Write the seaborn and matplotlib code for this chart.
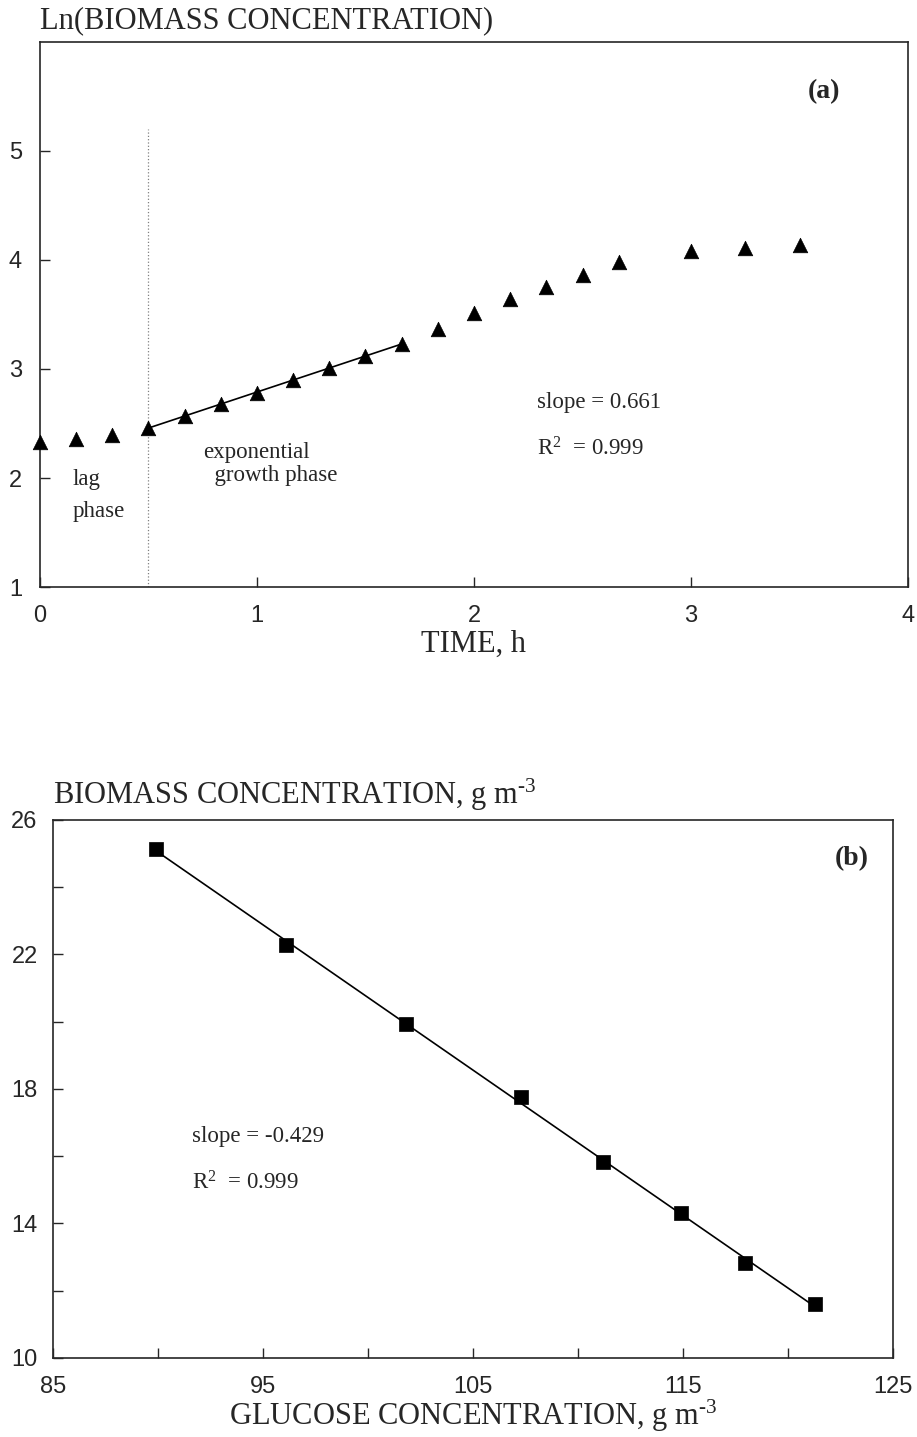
import numpy as np
import pandas as pd
import matplotlib
matplotlib.use("Agg")
import matplotlib.pyplot as plt
import seaborn as sns

# panel (a): growth curve, ln(biomass) vs time
time_h = [0.0, 0.167, 0.333, 0.5, 0.667, 0.833, 1.0, 1.167, 1.333, 1.5, 1.667,
          1.833, 2.0, 2.167, 2.333, 2.5, 2.667, 3.0, 3.25, 3.5]
ln_biomass = [2.33, 2.36, 2.39, 2.46, 2.57, 2.68, 2.78, 2.90, 3.01, 3.12, 3.23,
              3.37, 3.51, 3.64, 3.75, 3.86, 3.98, 4.08, 4.11, 4.14]
exp_start, exp_end = 0.5, 1.667

# panel (b): biomass vs glucose
glucose = [89.9, 96.1, 101.8, 107.3, 111.2, 114.9, 117.95, 121.3]
biomass = [25.14, 22.28, 19.93, 17.76, 15.82, 14.30, 12.82, 11.6]

df_a = pd.DataFrame({"time": time_h, "lnx": ln_biomass})
df_exp = df_a[(df_a["time"] >= exp_start - 1e-6) & (df_a["time"] <= exp_end + 1e-6)]
df_b = pd.DataFrame({"glucose": glucose, "biomass": biomass})

sns.set_theme(style="ticks")
serif = "Liberation Serif"
sans = "Liberation Sans"
plt.rcParams["font.family"] = [sans, "DejaVu Sans"]
plt.rcParams["axes.linewidth"] = 1.2
plt.rcParams["mathtext.fontset"] = "custom"
plt.rcParams["mathtext.rm"] = serif
plt.rcParams["mathtext.it"] = serif + ":italic"

TITLE = 22
NOTE = 16.5
TICK = 17

fig = plt.figure(figsize=(9.17, 14.37), dpi=100)
ax1 = fig.add_axes([0.0436, 0.5915, 0.9466, 0.3793])
ax2 = fig.add_axes([0.0578, 0.0550, 0.9160, 0.3744])

# ---- panel (a)
ax1.plot([exp_start, exp_start], [1, 5.2], color="gray", linestyle=":", linewidth=0.9)
sns.regplot(x="time", y="lnx", data=df_exp, ci=None, scatter=False, truncate=True,
            line_kws={"color": "black", "linewidth": 1.2}, ax=ax1)
sns.scatterplot(x="time", y="lnx", data=df_a, marker="^", s=110, color="black",
                edgecolor="black", linewidth=0.5, ax=ax1, clip_on=False, zorder=5)
ax1.set_xlim(0, 4)
ax1.set_ylim(1, 6)
ax1.set_xticks([0, 1, 2, 3, 4])
ax1.set_yticks([1, 2, 3, 4, 5])
ax1.tick_params(direction="in", length=7, width=1, labelsize=TICK, pad=13)
ax1.set_xlabel("TIME, h", family=serif, fontsize=TITLE, labelpad=2)
ax1.set_ylabel("")
ax1.text(0.0, 1.012, "Ln(BIOMASS CONCENTRATION)", transform=ax1.transAxes,
         family=serif, fontsize=TITLE, ha="left", va="bottom")
ax1.text(0.903, 0.908, "(a)", transform=ax1.transAxes, family=serif, fontsize=20,
         fontweight="bold", ha="center", va="center")
ax1.text(0.15, 2.08, "lag\nphase", family=serif, fontsize=NOTE, ha="left", va="top",
         linespacing=1.65)
ax1.text(0.75, 2.33, "exponential\n  growth phase", family=serif, fontsize=NOTE,
         ha="left", va="top", linespacing=1.15)
ax1.text(2.29, 2.69, "slope = 0.661", family=serif, fontsize=NOTE, ha="left", va="center")
ax1.text(2.29, 2.27, r"R$^2$  = 0.999", family=serif, fontsize=NOTE, ha="left", va="center")

# ---- panel (b)
sns.regplot(x="glucose", y="biomass", data=df_b, ci=None, scatter=False, truncate=True,
            line_kws={"color": "black", "linewidth": 1.2}, ax=ax2)
sns.scatterplot(x="glucose", y="biomass", data=df_b, marker="s", s=90, color="black",
                edgecolor="black", linewidth=0.5, ax=ax2, zorder=5)
ax2.set_xlim(85, 125)
ax2.set_ylim(10, 26)
ax2.set_xticks(np.arange(85, 126, 5))
ax2.set_xticklabels(["85", "", "95", "", "105", "", "115", "", "125"])
ax2.set_yticks(np.arange(10, 27, 2))
ax2.set_yticklabels(["10", "", "14", "", "18", "", "22", "", "26"])
ax2.tick_params(direction="in", length=7, width=1, labelsize=TICK, pad=13)
ax2.tick_params(axis="y", pad=11)
ax2.set_xlabel(r"GLUCOSE CONCENTRATION, g m$^{\text{-}3}$", family=serif,
               fontsize=TITLE, labelpad=0)
ax2.set_ylabel("")
ax2.text(0.0, 1.012, r"BIOMASS CONCENTRATION, g m$^{\text{-}3}$", transform=ax2.transAxes,
         family=serif, fontsize=TITLE, ha="left", va="bottom")
ax2.text(0.951, 0.929, "(b)", transform=ax2.transAxes, family=serif, fontsize=20,
         fontweight="bold", ha="center", va="center")
ax2.text(91.6, 16.6, "slope = -0.429", family=serif, fontsize=NOTE, ha="left", va="center")
ax2.text(91.6, 15.2, r"R$^2$  = 0.999", family=serif, fontsize=NOTE, ha="left", va="center")

fig.savefig("out.png", dpi=100)
